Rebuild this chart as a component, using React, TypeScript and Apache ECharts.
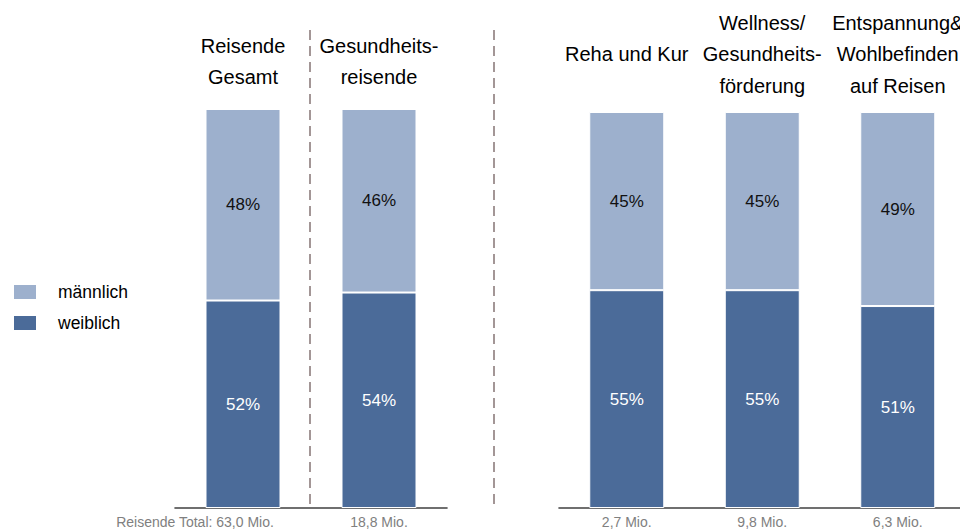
import React, { useEffect, useRef } from "react";
import * as echarts from "echarts";

const categoriesLeft = ["Reisende\nGesamt", "Gesundheits-\nreisende"];
const categoriesRight = ["Reha und Kur", "Wellness/\nGesundheits-\nförderung", "Entspannung&\nWohlbefinden\nauf Reisen"];
const totalsLeft = ["Reisende Total: 63,0 Mio.", "18,8 Mio."];
const totalsRight = ["2,7 Mio.", "9,8 Mio.", "6,3 Mio."];
const weiblichLeft = [52, 54];
const maennlichLeft = [48, 46];
const weiblichRight = [55, 55, 51];
const maennlichRight = [45, 45, 49];
const legendNames = ["männlich", "weiblich"];

const FONT = 'Arial, "Liberation Sans", sans-serif';
const LIGHT = "#9db0cd";
const DARK = "#4b6b99";

export default function App() {
  const ref = useRef<HTMLDivElement>(null);
  useEffect(() => {
    if (!ref.current) return;
    const chart = echarts.init(ref.current, null, { renderer: "svg" });

    const bottomAxis = (gridIndex: number, data: string[], spacerFirst: boolean) => ({
      type: "category",
      gridIndex,
      position: "bottom",
      data,
      axisLine: { show: true, lineStyle: { color: "#404040", width: 1.6 } },
      axisTick: { show: false },
      axisLabel: {
        interval: 0,
        margin: 7,
        fontSize: 14,
        fontFamily: FONT,
        color: "#808080",
        formatter: (v: string, i: number) => (spacerFirst && i === 0 ? `{t|${v}}{s| }` : `{t|${v}}`),
        rich: {
          t: { fontSize: 14, fontFamily: FONT, color: "#808080" },
          s: { width: 96, fontSize: 14 },
        },
      },
    });

    const topAxis = (gridIndex: number, data: string[], margin: number) => ({
      type: "category",
      gridIndex,
      position: "top",
      data,
      axisLine: { show: false },
      axisTick: { show: false },
      axisLabel: {
        interval: 0,
        margin,
        fontSize: 20,
        lineHeight: 31.5,
        verticalAlign: "middle",
        fontFamily: FONT,
        color: "#000",
      },
    });

    const valueAxis = (gridIndex: number) => ({
      type: "value",
      gridIndex,
      min: 0,
      max: 100,
      show: false,
    });

    const barSeries = (name: string, data: number[], axisIdx: number, color: string, labelColor: string) => ({
      type: "bar",
      name,
      stack: "s" + axisIdx,
      xAxisIndex: axisIdx * 2,
      yAxisIndex: axisIdx,
      data,
      barWidth: 75,
      itemStyle: { color, borderColor: "#ffffff", borderWidth: 1 },
      label: {
        show: true,
        position: "inside",
        formatter: "{c}%",
        fontSize: 17,
        fontFamily: FONT,
        color: labelColor,
        textBorderWidth: 0,
      },
    });

    chart.setOption({
      animation: false,
      backgroundColor: "#ffffff",
      legend: {
        data: legendNames,
        orient: "vertical",
        left: 12,
        top: 283,
        padding: 0,
        icon: "rect",
        itemWidth: 24,
        itemHeight: 16,
        itemGap: 13,
        textStyle: { fontSize: 17.5, fontFamily: FONT, color: "#000", padding: [0, 0, 0, 16] },
        selectedMode: false,
      },
      grid: [
        { left: 175, width: 272, top: 109, bottom: 24, outerBoundsMode: "none", containLabel: false },
        { left: 559, width: 406.5, top: 112, bottom: 24, outerBoundsMode: "none", containLabel: false },
      ],
      xAxis: [
        bottomAxis(0, totalsLeft, true),
        topAxis(0, categoriesLeft, 47.5),
        bottomAxis(1, totalsRight, false),
        topAxis(1, categoriesRight, 58),
      ],
      yAxis: [valueAxis(0), valueAxis(1)],
      series: [
        barSeries("weiblich", weiblichLeft, 0, DARK, "#ffffff"),
        barSeries("männlich", maennlichLeft, 0, LIGHT, "#111111"),
        barSeries("weiblich", weiblichRight, 1, DARK, "#ffffff"),
        barSeries("männlich", maennlichRight, 1, LIGHT, "#111111"),
      ],
      graphic: [
        {
          type: "line",
          shape: { x1: 310, y1: 30, x2: 310, y2: 507 },
          style: { stroke: "#a39696", lineWidth: 2, lineDash: [10, 6] },
        },
        {
          type: "line",
          shape: { x1: 494, y1: 30, x2: 494, y2: 508 },
          style: { stroke: "#a39696", lineWidth: 2, lineDash: [10, 6] },
        },
      ],
    });
    return () => chart.dispose();
  }, []);
  return (
    <div
      ref={ref}
      style={{ position: "fixed", left: 0, top: 0, width: 960, height: 532 }}
    />
  );
}
